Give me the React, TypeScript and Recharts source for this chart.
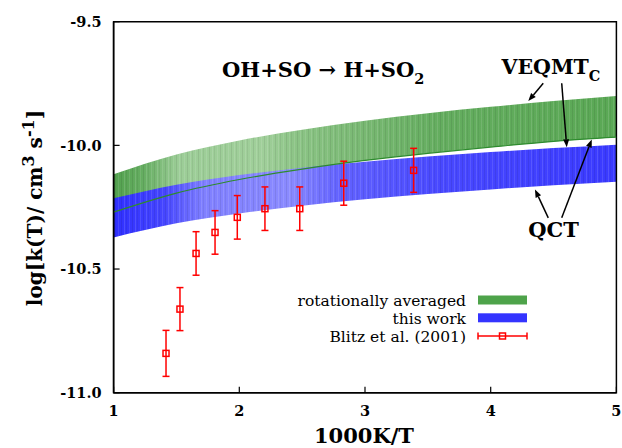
import React from 'react';
import {
  ComposedChart,
  Area,
  Line,
  Scatter,
  ErrorBar,
  XAxis,
  YAxis,
  ReferenceLine,
  ReferenceArea,
} from 'recharts';

// ---- data ----
const invT = [1, 1.5, 2, 2.5, 3, 3.5, 4, 4.5, 5];
const rotAvgHigh = [-10.117, -10.037, -9.98, -9.937, -9.9, -9.87, -9.844, -9.821, -9.8];
const rotAvgLow = [-10.27, -10.193, -10.138, -10.096, -10.061, -10.032, -10.007, -9.984, -9.967];
const thisWorkHigh = [-10.214, -10.159, -10.12, -10.09, -10.066, -10.045, -10.027, -10.011, -9.997];
const thisWorkLow = [-10.372, -10.315, -10.275, -10.244, -10.218, -10.197, -10.178, -10.161, -10.147];

const blitzX = [1.417, 1.528, 1.656, 1.807, 1.984, 2.204, 2.481, 2.831, 3.387];
const blitzY = [-10.841, -10.662, -10.437, -10.352, -10.291, -10.256, -10.256, -10.153, -10.101];
const blitzErr = [0.093, 0.087, 0.088, 0.088, 0.088, 0.088, 0.088, 0.089, 0.089];

const xTicks = [1, 2, 3, 4, 5];
const yTicks = [-11, -10.5, -10, -9.5];

// annotation arrows (data coordinates): [x1, y1, x2, y2]
const veqmtArrows = [
  [4.418, -9.749, 4.299, -9.821],
  [4.565, -9.749, 4.605, -10.008],
];
const qctArrows = [
  [4.458, -10.293, 4.352, -10.178],
  [4.565, -10.293, 4.804, -9.976],
];

const bandData = invT.map((x, i) => ({
  x,
  green: [rotAvgLow[i], rotAvgHigh[i]],
  blue: [thisWorkLow[i], thisWorkHigh[i]],
  greenLow: rotAvgLow[i],
}));

const blitzData = blitzX.map((x, i) => ({ x, y: blitzY[i], err: blitzErr[i] }));

const FONT = '"DejaVu Serif", serif';

const ArrowShape = (props: any) => {
  const { x1, y1, x2, y2 } = props;
  const dx = x2 - x1;
  const dy = y2 - y1;
  const len = Math.sqrt(dx * dx + dy * dy) || 1;
  const ux = dx / len;
  const uy = dy / len;
  const hl = 8;
  const hw = 3;
  const bx = x2 - ux * hl;
  const by = y2 - uy * hl;
  const p1 = `${x2},${y2}`;
  const p2 = `${bx - uy * hw},${by + ux * hw}`;
  const p3 = `${bx + uy * hw},${by - ux * hw}`;
  return (
    <g>
      <line x1={x1} y1={y1} x2={bx} y2={by} stroke="#000" strokeWidth={1.5} />
      <polygon points={`${p1} ${p2} ${p3}`} fill="#000" />
    </g>
  );
};

const SquareShape = (props: any) => {
  const { cx, cy } = props;
  return (
    <g>
      <rect x={cx - 3} y={cy - 3} width={6} height={6} fill="none" stroke="#ff0000" strokeWidth={1.5} />
    </g>
  );
};

const tickStyle = { fill: '#000', fontFamily: FONT, fontSize: 14.5, fontWeight: 'bold' };

export default function App() {
  return (
    <div style={{ position: 'absolute', left: 0, top: 0, width: 622, height: 448, background: '#fff' }}>
      <ComposedChart
        width={622}
        height={448}
        data={bandData}
        margin={{ top: 21.7, right: 5.6, bottom: 25.3, left: 53.6 }}
      >
        <defs>
          <linearGradient id="gGreen" x1="0" y1="0" x2="1" y2="0">
            <stop offset="0" stopColor="#52a14e" />
            <stop offset="0.06" stopColor="#66ae62" />
            <stop offset="0.13" stopColor="#9ccd97" />
            <stop offset="0.3" stopColor="#a0cf9a" />
            <stop offset="0.36" stopColor="#8cc486" />
            <stop offset="0.5" stopColor="#78b872" />
            <stop offset="0.65" stopColor="#64ad5f" />
            <stop offset="1" stopColor="#5aa855" />
          </linearGradient>
          <linearGradient id="gBlue" x1="0" y1="0" x2="1" y2="0">
            <stop offset="0" stopColor="#2f2fff" />
            <stop offset="0.1" stopColor="#4545ff" />
            <stop offset="0.18" stopColor="#8080ff" />
            <stop offset="0.35" stopColor="#8a8aff" />
            <stop offset="0.45" stopColor="#6262ff" />
            <stop offset="0.65" stopColor="#4848ff" />
            <stop offset="1" stopColor="#3a3aff" />
          </linearGradient>
          <pattern id="stripes" x="0" y="0" width="11" height="10" patternUnits="userSpaceOnUse">
            <rect x="0" y="0" width="1" height="10" fill="#000" fillOpacity="0.08" />
            <rect x="3" y="0" width="1" height="10" fill="#fff" fillOpacity="0.12" />
            <rect x="5" y="0" width="1" height="10" fill="#000" fillOpacity="0.06" />
            <rect x="8" y="0" width="1" height="10" fill="#fff" fillOpacity="0.1" />
          </pattern>
        </defs>
        <XAxis
          type="number"
          dataKey="x"
          domain={[1, 5]}
          ticks={xTicks}
          interval={0}
          height={30}
          tickSize={-6}
          tickMargin={19}
          axisLine={{ stroke: '#000', strokeWidth: 1.5 }}
          tickLine={{ stroke: '#000', strokeWidth: 1.2 }}
          tick={tickStyle}
          allowDataOverflow
        />
        <YAxis
          type="number"
          domain={[-11, -9.5]}
          ticks={yTicks}
          interval={0}
          width={60}
          tickSize={-6}
          tickMargin={18}
          tickFormatter={(v: number) => v.toFixed(1)}
          axisLine={{ stroke: '#000', strokeWidth: 1.5 }}
          tickLine={{ stroke: '#000', strokeWidth: 1.2 }}
          tick={tickStyle}
          allowDataOverflow
        />
        <Area
          type="monotone"
          dataKey="green"
          fill="url(#gGreen)"
          fillOpacity={1}
          stroke="none"
          isAnimationActive={false}
          dot={false}
          activeDot={false}
        />
        <Area
          type="monotone"
          dataKey="green"
          fill="url(#stripes)"
          fillOpacity={1}
          stroke="none"
          isAnimationActive={false}
          dot={false}
          activeDot={false}
          legendType="none"
        />
        <Area
          type="monotone"
          dataKey="blue"
          fill="url(#gBlue)"
          fillOpacity={1}
          stroke="none"
          isAnimationActive={false}
          dot={false}
          activeDot={false}
        />
        <Area
          type="monotone"
          dataKey="blue"
          fill="url(#stripes)"
          fillOpacity={1}
          stroke="none"
          isAnimationActive={false}
          dot={false}
          activeDot={false}
          legendType="none"
        />
        <Line
          type="monotone"
          dataKey="greenLow"
          stroke="#2e8b2e"
          strokeWidth={1.2}
          dot={false}
          activeDot={false}
          isAnimationActive={false}
        />
        <Scatter data={blitzData} dataKey="y" shape={SquareShape} isAnimationActive={false}>
          <ErrorBar dataKey="err" direction="y" width={3.5} stroke="#ff0000" strokeWidth={1.5} />
        </Scatter>
        {[...veqmtArrows, ...qctArrows].map((a, i) => (
          <ReferenceLine
            key={i}
            segment={[
              { x: a[0], y: a[1] },
              { x: a[2], y: a[3] },
            ]}
            shape={ArrowShape}
            ifOverflow="visible"
          />
        ))}
        <ReferenceArea x1={1} x2={5} y1={-11} y2={-9.5} fill="none" stroke="#000" strokeWidth={1.5} />
      </ComposedChart>
      <svg
        width={622}
        height={448}
        style={{ position: 'absolute', left: 0, top: 0, pointerEvents: 'none' }}
        fontFamily={FONT}
      >
        {/* title */}
        <text x={222} y={76.7} fontSize={21} fontWeight="bold" fill="#000">
          OH+SO → H+SO<tspan fontSize={14.5} dy={7}>2</tspan>
        </text>
        {/* VEQMT_C */}
        <text x={501.5} y={74.3} fontSize={20.5} fontWeight="bold" fill="#000">
          VEQMT<tspan fontSize={14.5} dy={7}>C</tspan>
        </text>
        {/* QCT */}
        <text x={528.3} y={236.7} fontSize={21} fontWeight="bold" fill="#000">
          QCT
        </text>
        {/* legend */}
        <text x={466} y={306} fontSize={15.5} textAnchor="end" fill="#000">rotationally averaged</text>
        <rect x={478} y={295.5} width={49} height={9} fill="#4ea34a" />
        <text x={466} y={324} fontSize={15.5} textAnchor="end" fill="#000">this work</text>
        <rect x={478} y={313.3} width={49} height={9} fill="#3434ff" />
        <text x={466} y={342} fontSize={15.5} textAnchor="end" fill="#000">Blitz et al. (2001)</text>
        <line x1={478} y1={336} x2={527} y2={336} stroke="#ff0000" strokeWidth={1.5} />
        <line x1={478} y1={332.5} x2={478} y2={339.5} stroke="#ff0000" strokeWidth={1.5} />
        <line x1={527} y1={332.5} x2={527} y2={339.5} stroke="#ff0000" strokeWidth={1.5} />
        <rect x={499.5} y={333} width={6} height={6} fill="none" stroke="#ff0000" strokeWidth={1.5} />
        {/* axis titles */}
        <text x={364} y={443} fontSize={21} fontWeight="bold" textAnchor="middle" fill="#000">1000K/T</text>
        <text
          transform="translate(41.7,208) rotate(-90)"
          fontSize={20}
          fontWeight="bold"
          textAnchor="middle"
          fill="#000"
        >
          log[k(T)/ cm<tspan dy={-8} fontSize={16}>3</tspan><tspan dy={8}> s</tspan><tspan dy={-8} fontSize={16}>-1</tspan><tspan dy={8}>]</tspan>
        </text>
      </svg>
    </div>
  );
}
